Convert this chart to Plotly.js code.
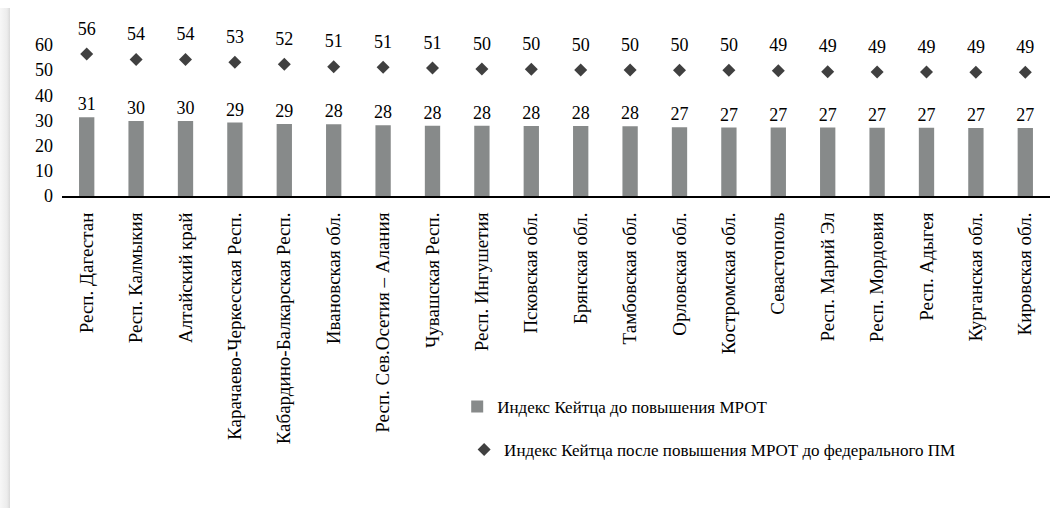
<!DOCTYPE html>
<html>
<head>
<meta charset="utf-8">
<script src="https://cdn.plot.ly/plotly-3.0.1.min.js"></script>
<style>
html,body{margin:0;padding:0;background:#fff;}
#strip{position:absolute;left:0;top:8px;width:10px;height:500px;background:linear-gradient(to right,#f7f7f7,#ececec 70%,#d9d9d9);}
#chart{position:absolute;left:0;top:0;width:1057px;height:508px;}
</style>
</head>
<body>
<div id="strip"></div>
<div id="chart"></div>
<script>
const categories = ["Респ. Дагестан","Респ. Калмыкия","Алтайский край","Карачаево-Черкесская Респ.","Кабардино-Балкарская Респ.","Ивановская обл.","Респ. Сев.Осетия – Алания","Чувашская Респ.","Респ. Ингушетия","Псковская обл.","Брянская обл.","Тамбовская обл.","Орловская обл.","Костромская обл.","Севастополь","Респ. Марий Эл","Респ. Мордовия","Респ. Адыгея","Курганская обл.","Кировская обл."];
const before = [31.3,29.8,29.8,29.2,28.6,28.5,28.1,27.9,27.9,27.8,27.8,27.7,27.3,27.2,27.2,27.2,27.1,27.1,27.0,27.0];
const after = [56.4,54.2,54.2,53.1,52.4,51.4,51.2,50.9,50.5,50.4,50.1,50.1,50.0,50.0,49.8,49.4,49.3,49.3,49.2,49.2];
const beforeLabels = [31,30,30,29,29,28,28,28,28,28,28,28,27,27,27,27,27,27,27,27];
const afterLabels = [56,54,54,53,52,51,51,51,50,50,50,50,50,50,49,49,49,49,49,49];
const seriesNames = ["Индекс Кейтца до повышения МРОТ","Индекс Кейтца после повышения МРОТ до федерального ПМ"];
const F = "'Liberation Serif', 'DejaVu Serif', serif";

const traces = [
  {type:'bar', x:categories, y:before, name:seriesNames[0], legend:'legend',
   marker:{color:'#878a8a'}, text:beforeLabels.map(String), textposition:'outside', constraintext:'none',
   textfont:{family:F,size:18,color:'#000'}, cliponaxis:false, hoverinfo:'none'},
  {type:'scatter', mode:'markers', x:categories, y:after, name:seriesNames[1], legend:'legend2',
   marker:{symbol:'diamond', size:10, color:'#404040'}, cliponaxis:false, hoverinfo:'none'},
  {type:'scatter', mode:'markers+text', x:categories, y:after, showlegend:false,
   marker:{size:22, color:'rgba(0,0,0,0)'}, text:afterLabels.map(String), textposition:'top center',
   textfont:{family:F,size:18,color:'#000'}, cliponaxis:false, hoverinfo:'none'}
];
const layout = {
  width:1057, height:508,
  margin:{l:62,r:7,t:45,b:312},
  paper_bgcolor:'rgba(0,0,0,0)', plot_bgcolor:'rgba(0,0,0,0)',
  bargap:0.69,
  font:{family:F,size:18,color:'#000'},
  xaxis:{type:'category', range:[-0.5,19.5], tickangle:-90, showline:true, linecolor:'#000', linewidth:2,
    ticks:'', showgrid:false, ticklabelstandoff:7, tickfont:{family:F,size:19,color:'#000'}, fixedrange:true},
  yaxis:{range:[0,60], dtick:10, tick0:0, showgrid:false, zeroline:false, showline:false,
    ticks:'', ticklabelstandoff:8, tickfont:{family:F,size:18,color:'#000'}, fixedrange:true},
  legend:{x:0.4, y:-1.397, xanchor:'left', yanchor:'middle', font:{family:F,size:17,color:'#000'}, bgcolor:'rgba(0,0,0,0)'},
  legend2:{x:0.407, y:-1.682, xanchor:'left', yanchor:'middle', font:{family:F,size:17,color:'#000'}, bgcolor:'rgba(0,0,0,0)'},
  showlegend:true
};
Plotly.newPlot('chart', traces, layout, {displayModeBar:false, staticPlot:true});
</script>
</body>
</html>
